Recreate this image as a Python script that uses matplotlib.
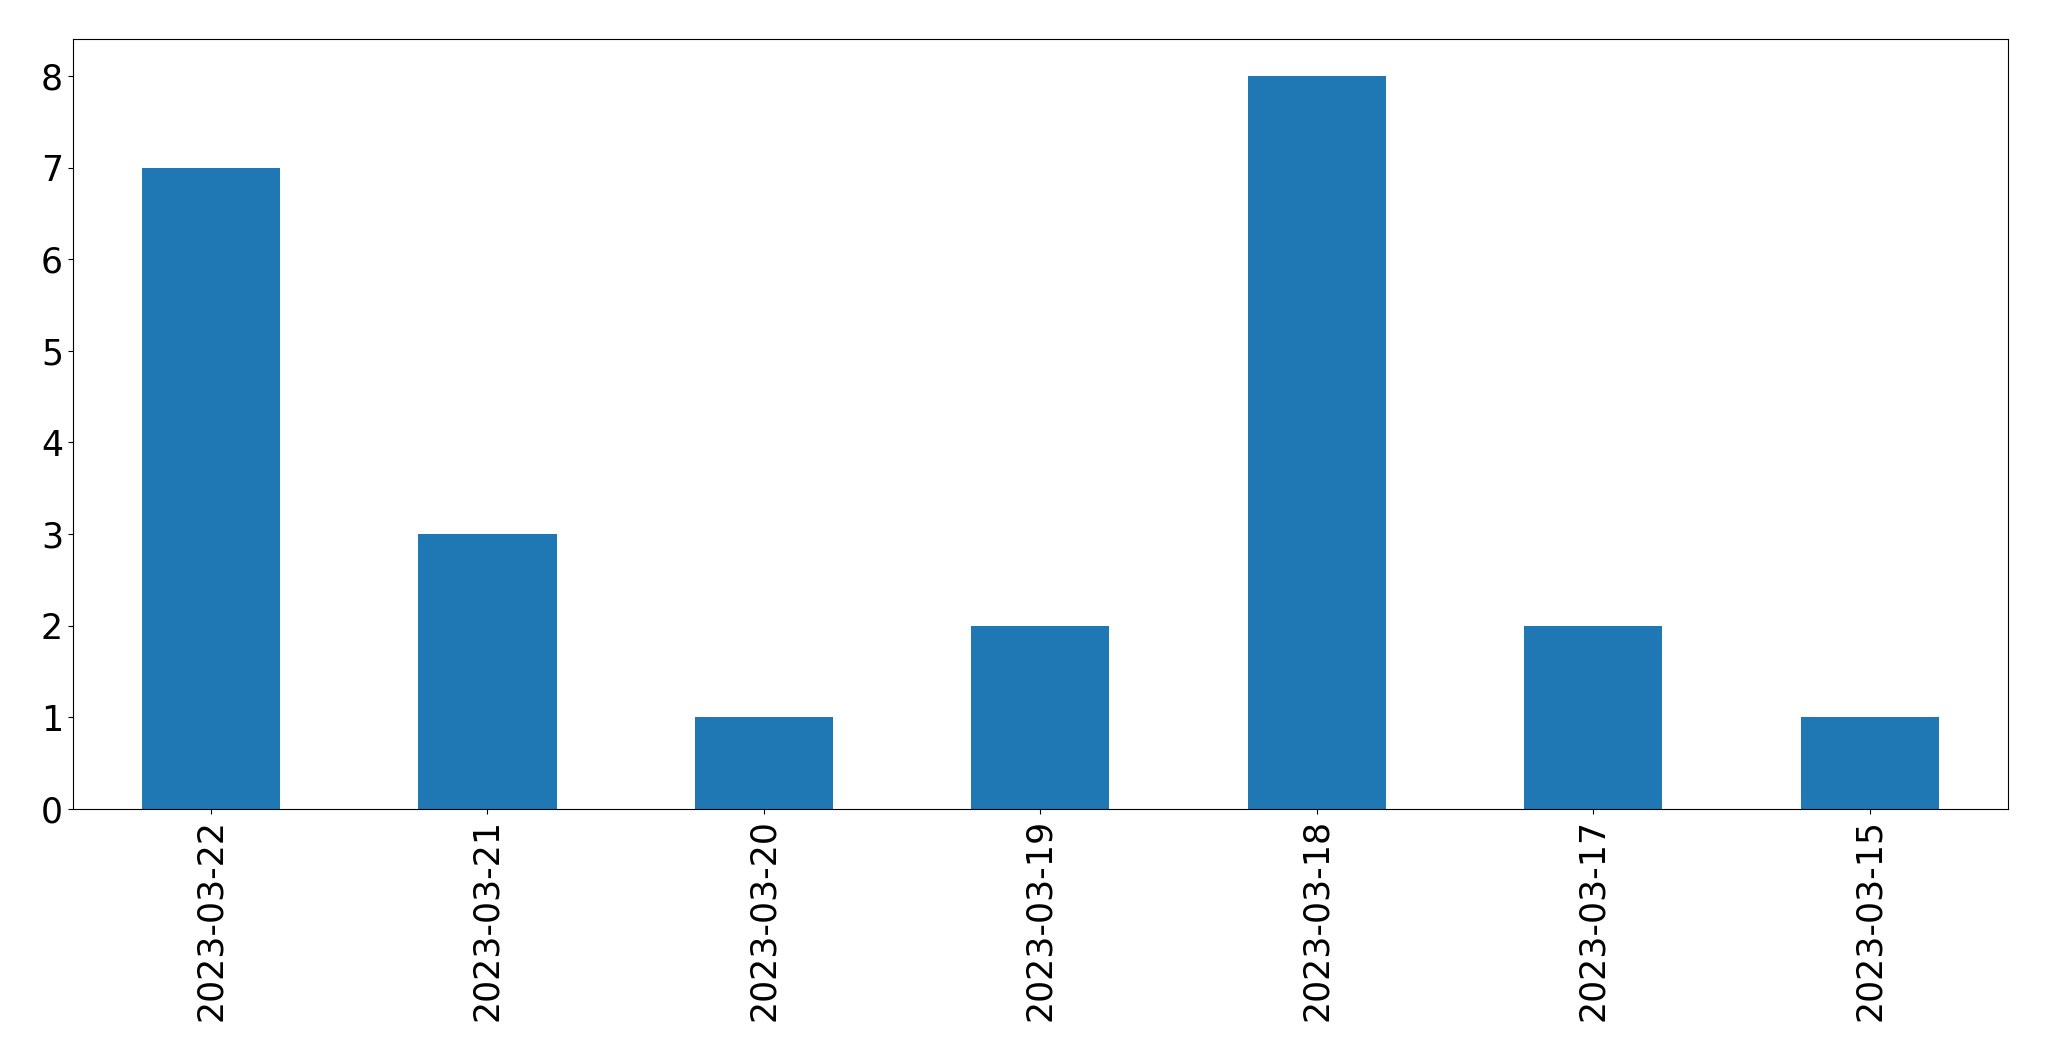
import matplotlib
matplotlib.use("Agg")
import matplotlib.pyplot as plt
import pandas as pd

dates = ["2023-03-22", "2023-03-21", "2023-03-20", "2023-03-19",
         "2023-03-18", "2023-03-17", "2023-03-15"]
counts = [7, 3, 1, 2, 8, 2, 1]

s = pd.Series(counts, index=dates)

fig, ax = plt.subplots(figsize=(20.49, 10.61), dpi=100)
s.plot(kind="bar", ax=ax, color="#1f77b4", fontsize=25)
ax.set_ylim(0, 8.4)
ax.set_xlim(-0.5, len(dates) - 0.5)

fig.subplots_adjust(left=0.0355, right=0.980, top=0.963, bottom=0.2375)
fig.savefig("out.png", dpi=100)
